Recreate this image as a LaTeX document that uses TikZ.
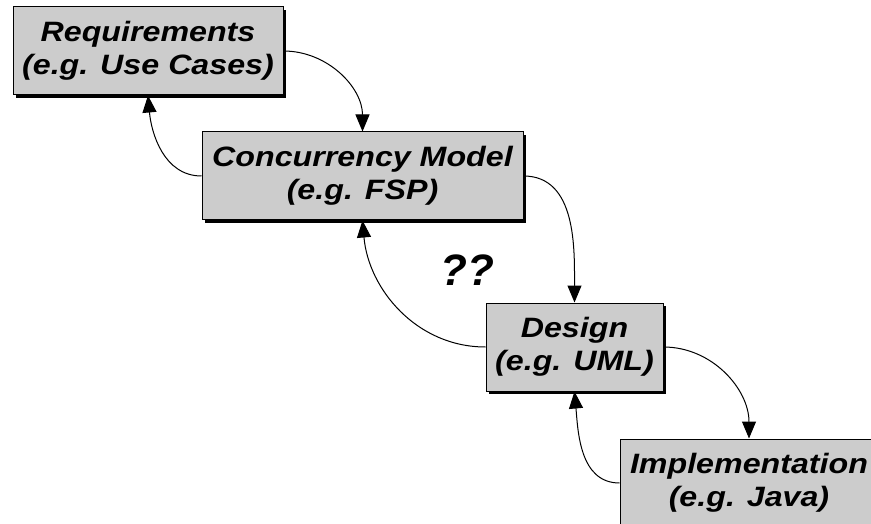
\documentclass[tikz,border=0pt]{standalone}
\usepackage{fontspec}
\setmainfont{Liberation Sans}
\newfontfamily\widesans[FakeStretch=1.15]{Liberation Sans}
\usetikzlibrary{arrows.meta,shadows}
\definecolor{boxgray}{HTML}{CCCCCC}
\begin{document}
\begin{tikzpicture}[x=1pt,y=-1pt,
  stagebox/.style={draw=black, line width=1pt, fill=boxgray, inner sep=0pt,
    align=center, font=\widesans\fontsize{28}{33}\selectfont\bfseries\itshape,
    general shadow={fill=black, shadow xshift=3pt, shadow yshift=-3pt}},
  flow/.style={line width=1pt, -{Triangle[length=17pt,width=14pt]}}]
\clip (0,0) rectangle (871,524);
\fill[white] (0,0) rectangle (871,524);
\node[stagebox, minimum width=270pt, minimum height=88pt] (req) at (148,51)
  {Requirements\\(e.g. Use Cases)};
\node[stagebox, minimum width=321pt, minimum height=88pt] (conc) at (362.5,176)
  {Concurrency Model\\(e.g. FSP)};
\node[stagebox, minimum width=177pt, minimum height=88pt] (des) at (574.5,347)
  {Design\\(e.g. UML)};
\node[stagebox, minimum width=258pt, minimum height=88pt] (impl) at (749,483)
  {Implementation\\(e.g. Java)};
\node[font=\fontsize{44}{50}\selectfont\bfseries\itshape] (q) at (467,270) {??};
\draw[flow] (req.east) to[out=0,in=90] (conc.north);
\draw[flow] (conc.west) to[out=180,in=-85] (req.south);
\draw[flow] (conc.east) to[out=0,in=90] (des.north);
\draw[flow] (des.west) to[out=180,in=-85] (conc.south);
\draw[flow] (des.east) to[out=0,in=90] (impl.north);
\draw[flow] (impl.west) to[out=180,in=-85] (des.south);
\end{tikzpicture}
\end{document}
